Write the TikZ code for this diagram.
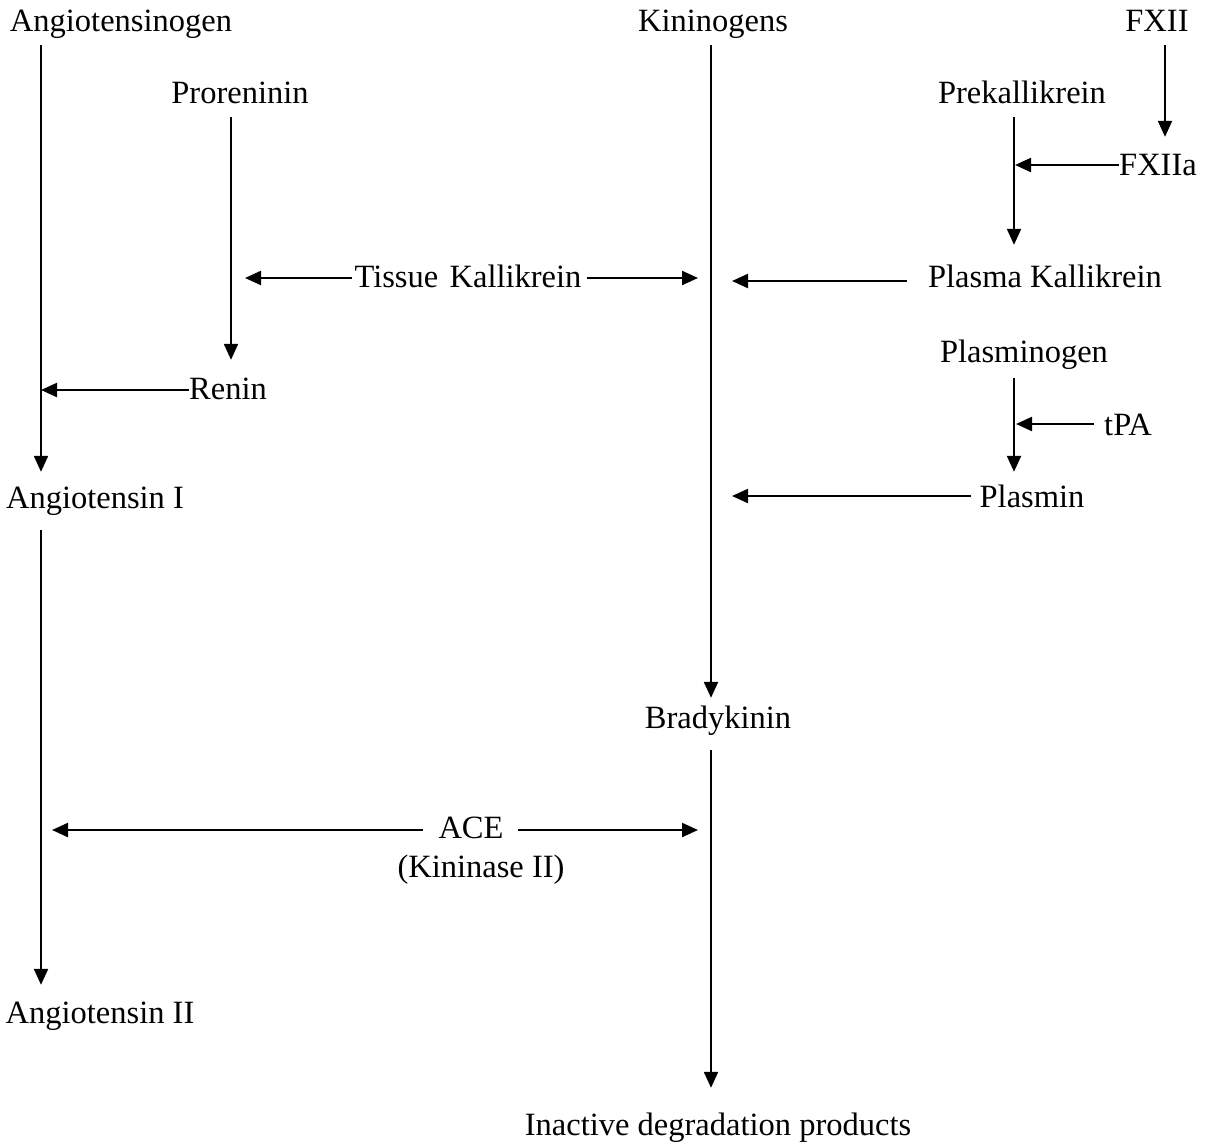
\documentclass[tikz,border=0pt]{standalone}
\usepackage{fontspec}
\setmainfont{Liberation Serif}
\usetikzlibrary{arrows.meta}
\begin{document}
\begin{tikzpicture}[x=1pt,y=-1pt,
  lbl/.style={inner sep=0pt,anchor=base,text height=21pt,text depth=7pt,font=\fontsize{32.5}{38}\selectfont},
  arr/.style={-{Triangle[length=16pt,width=14pt]},line width=2.2pt}]
\useasboundingbox[fill=white] (0,0) rectangle (1206,1146);
% columns
\coordinate (colL) at (41,0);
\coordinate (colP) at (231,0);
\coordinate (colC) at (711,0);
\coordinate (colK) at (1014,0);
\coordinate (colF) at (1165,0);
% nodes
\node[lbl] (ang)  at (121,31)  {Angiotensinogen};
\node[lbl] (pro)  at (240,103) {Proreninin};
\node[lbl] (ren)  at (228,399) {Renin};
\node[lbl] (ang1) at (95,508)  {Angiotensin I};
\node[lbl] (ang2) at (100,1023) {Angiotensin II};
\node[lbl] (kin)  at (713,31)  {Kininogens};
\node[lbl] (tk)   at (468,287) {Tissue\hspace{0.35em}Kallikrein};
\node[lbl] (bra)  at (718,728) {Bradykinin};
\node[lbl] (ina)  at (718,1135) {Inactive degradation products};
\node[lbl] (ace)  at (471,838) {ACE};
\node[lbl] (kii)  at (481,877) {(Kininase II)};
\node[lbl] (fx)   at (1157,31) {FXII};
\node[lbl] (pre)  at (1022,103) {Prekallikrein};
\node[lbl] (fxa)  at (1158,175) {FXIIa};
\node[lbl] (pk)   at (1045,287) {Plasma Kallikrein};
\node[lbl] (plg)  at (1024,362) {Plasminogen};
\node[lbl] (tpa)  at (1128,435) {tPA};
\node[lbl] (pl)   at (1032,507) {Plasmin};
% free ends on lines
\coordinate (renT) at (41,390);
\coordinate (tkL)  at (245,278);
\coordinate (tkR)  at (698,278);
\coordinate (pkT)  at (732,281);
\coordinate (plT)  at (732,496);
\coordinate (fxaT) at (1015,165);
\coordinate (tpaT) at (1016,424);
\coordinate (aceL) at (52,830);
\coordinate (aceR) at (698,830);
% vertical arrows
\draw[arr] ([yshift=-7pt]ang.south -| colL) -- ([yshift=15pt]ang1.north -| colL);
\draw[arr] ([yshift=-15pt]ang1.south -| colL) -- ([yshift=17pt]ang2.north -| colL);
\draw[arr] ([yshift=-7pt]pro.south -| colP) -- ([yshift=18pt]ren.north -| colP);
\draw[arr] ([yshift=-7pt]kin.south -| colC) -- ([yshift=9pt]bra.north -| colC);
\draw[arr] ([yshift=-15pt]bra.south -| colC) -- ([yshift=26pt]ina.north -| colC);
\draw[arr] ([yshift=-7pt]fx.south -| colF) -- ([yshift=17pt]fxa.north -| colF);
\draw[arr] ([yshift=-7pt]pre.south -| colK) -- ([yshift=21pt]pk.north -| colK);
\draw[arr] ([yshift=-9pt]plg.south -| colK) -- ([yshift=14pt]pl.north -| colK);
% horizontal arrows
\draw[arr] (ren.west |- renT) -- (renT);
\draw[arr] ([xshift=-2pt]tk.west |- tkL) -- (tkL);
\draw[arr] ([xshift=5pt]tk.east |- tkR) -- (tkR);
\draw[arr] ([xshift=-21pt]pk.west |- pkT) -- (pkT);
\draw[arr] ([xshift=-8pt]pl.west |- plT) -- (plT);
\draw[arr] (fxa.west |- fxaT) -- (fxaT);
\draw[arr] ([xshift=-10pt]tpa.west |- tpaT) -- (tpaT);
\draw[arr] ([xshift=-15pt]ace.west |- aceL) -- (aceL);
\draw[arr] ([xshift=14pt]ace.east |- aceR) -- (aceR);
\end{tikzpicture}
\end{document}
